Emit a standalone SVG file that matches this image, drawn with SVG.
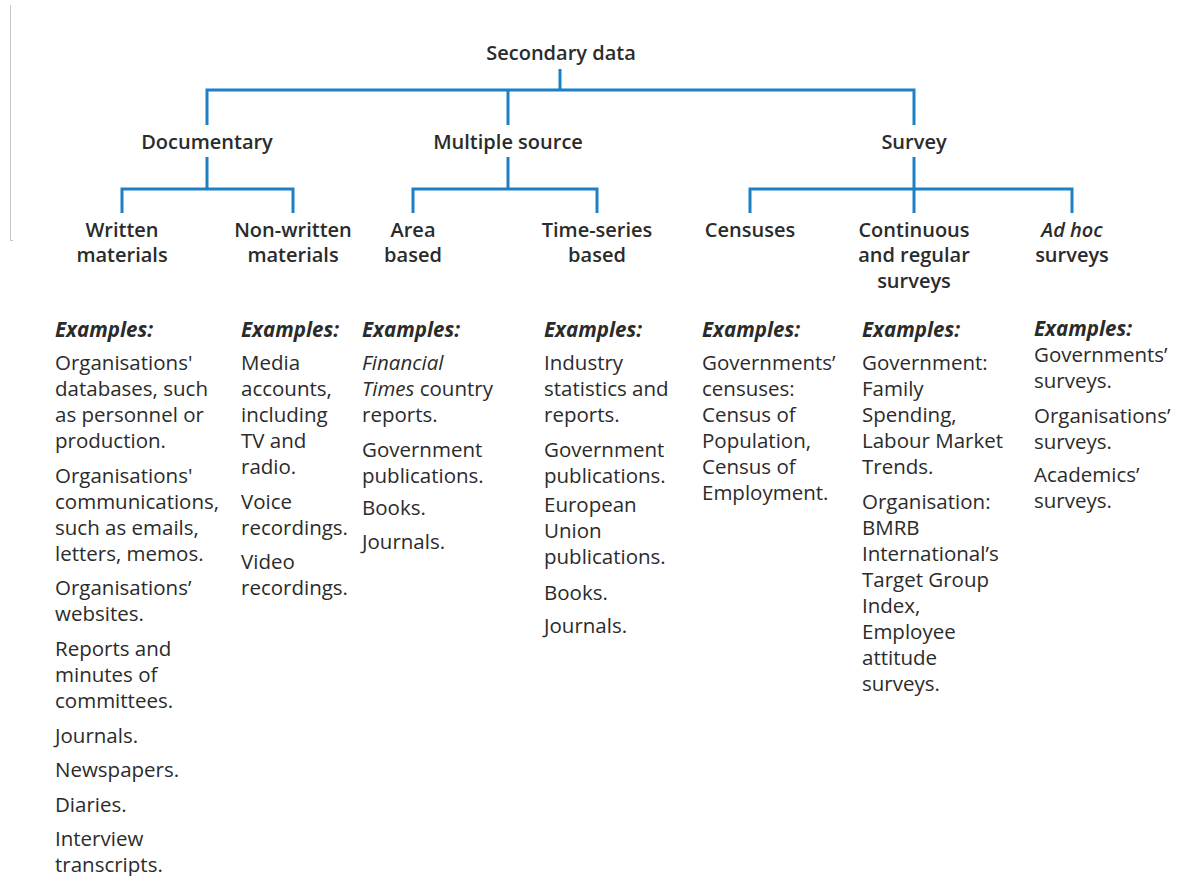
<svg xmlns="http://www.w3.org/2000/svg" width="1183" height="876" viewBox="0 0 1183 876">
  <style>
    text { font-family: "Open Sans", "Noto Sans", "Liberation Sans", sans-serif; fill: #2b2b2b; }
    .h { font-size: 20px; font-weight: 600; text-anchor: middle; }
    .b { font-size: 20.5px; }
    .ex { font-size: 20.5px; font-weight: bold; font-style: italic; }
    .i { font-style: italic; }
    .wire { fill: none; stroke: #1b80c4; stroke-width: 3; stroke-linejoin: miter; stroke-linecap: butt; }
    .rule { fill: none; stroke: #c4c4c4; stroke-width: 1; }
  </style>
  <rect width="1183" height="876" fill="#ffffff"/>

  <!-- thin page rule at the left edge -->
  <path class="rule" d="M10.5,5 V240.5 H13"/>

  <!-- tree connectors -->
  <g id="connectors">
    <path class="wire" d="M560,69 V90"/>
    <path class="wire" d="M207,125 V90 H914 V125"/>
    <path class="wire" d="M508,90 V125"/>
    <path class="wire" d="M207,157 V189"/>
    <path class="wire" d="M122,213 V189 H293 V213"/>
    <path class="wire" d="M508,157 V189"/>
    <path class="wire" d="M413,213 V189 H597 V213"/>
    <path class="wire" d="M914,157 V213"/>
    <path class="wire" d="M750,213 V189 H1072 V213"/>
  </g>

  <g id="secondary-data"><text class="h" x="561" y="60">Secondary data</text></g>
  <g id="documentary"><text class="h" x="207" y="149">Documentary</text></g>
  <g id="multiple-source"><text class="h" x="508" y="149">Multiple source</text></g>
  <g id="survey"><text class="h" x="914" y="149">Survey</text></g>

  <g id="written">
    <text class="h" x="122" y="237">Written</text>
    <text class="h" x="122" y="262">materials</text>
    <g class="b">
      <text class="ex" x="55" y="337">Examples:</text>
      <text x="55" y="370">Organisations'</text>
      <text x="55" y="396">databases, such</text>
      <text x="55" y="422">as personnel or</text>
      <text x="55" y="448">production.</text>
      <text x="55" y="483">Organisations'</text>
      <text x="55" y="509">communications,</text>
      <text x="55" y="535">such as emails,</text>
      <text x="55" y="561">letters, memos.</text>
      <text x="55" y="595">Organisations’</text>
      <text x="55" y="621">websites.</text>
      <text x="55" y="656">Reports and</text>
      <text x="55" y="682">minutes of</text>
      <text x="55" y="708">committees.</text>
      <text x="55" y="743">Journals.</text>
      <text x="55" y="777">Newspapers.</text>
      <text x="55" y="812">Diaries.</text>
      <text x="55" y="846">Interview</text>
      <text x="55" y="872">transcripts.</text>
    </g>
  </g>

  <g id="non-written">
    <text class="h" x="293" y="237">Non-written</text>
    <text class="h" x="293" y="262">materials</text>
    <g class="b">
      <text class="ex" x="241" y="337">Examples:</text>
      <text x="241" y="370">Media</text>
      <text x="241" y="396">accounts,</text>
      <text x="241" y="422">including</text>
      <text x="241" y="448">TV and</text>
      <text x="241" y="474">radio.</text>
      <text x="241" y="509">Voice</text>
      <text x="241" y="535">recordings.</text>
      <text x="241" y="569">Video</text>
      <text x="241" y="595">recordings.</text>
    </g>
  </g>

  <g id="area-based">
    <text class="h" x="413" y="237">Area</text>
    <text class="h" x="413" y="262">based</text>
    <g class="b">
      <text class="ex" x="362" y="337">Examples:</text>
      <text class="i" x="362" y="370">Financial</text>
      <text x="362" y="396"><tspan class="i">Times</tspan> country</text>
      <text x="362" y="422">reports.</text>
      <text x="362" y="457">Government</text>
      <text x="362" y="483">publications.</text>
      <text x="362" y="515">Books.</text>
      <text x="362" y="549">Journals.</text>
    </g>
  </g>

  <g id="time-series">
    <text class="h" x="597" y="237">Time-series</text>
    <text class="h" x="597" y="262">based</text>
    <g class="b">
      <text class="ex" x="544" y="337">Examples:</text>
      <text x="544" y="370">Industry</text>
      <text x="544" y="396">statistics and</text>
      <text x="544" y="422">reports.</text>
      <text x="544" y="457">Government</text>
      <text x="544" y="483">publications.</text>
      <text x="544" y="512">European</text>
      <text x="544" y="538">Union</text>
      <text x="544" y="564">publications.</text>
      <text x="544" y="600">Books.</text>
      <text x="544" y="633">Journals.</text>
    </g>
  </g>

  <g id="censuses">
    <text class="h" x="750" y="237">Censuses</text>
    <g class="b">
      <text class="ex" x="702" y="337">Examples:</text>
      <text x="702" y="370">Governments’</text>
      <text x="702" y="396">censuses:</text>
      <text x="702" y="422">Census of</text>
      <text x="702" y="448">Population,</text>
      <text x="702" y="474">Census of</text>
      <text x="702" y="500">Employment.</text>
    </g>
  </g>

  <g id="continuous">
    <text class="h" x="914" y="237">Continuous</text>
    <text class="h" x="914" y="262">and regular</text>
    <text class="h" x="914" y="288">surveys</text>
    <g class="b">
      <text class="ex" x="862" y="337">Examples:</text>
      <text x="862" y="370">Government:</text>
      <text x="862" y="396">Family</text>
      <text x="862" y="422">Spending,</text>
      <text x="862" y="448">Labour Market</text>
      <text x="862" y="474">Trends.</text>
      <text x="862" y="509">Organisation:</text>
      <text x="862" y="535">BMRB</text>
      <text x="862" y="561">International’s</text>
      <text x="862" y="587">Target Group</text>
      <text x="862" y="613">Index,</text>
      <text x="862" y="639">Employee</text>
      <text x="862" y="665">attitude</text>
      <text x="862" y="691">surveys.</text>
    </g>
  </g>

  <g id="ad-hoc">
    <text class="h i" x="1072" y="237">Ad hoc</text>
    <text class="h" x="1072" y="262">surveys</text>
    <g class="b">
      <text class="ex" x="1034" y="336">Examples:</text>
      <text x="1034" y="362">Governments’</text>
      <text x="1034" y="388">surveys.</text>
      <text x="1034" y="423">Organisations’</text>
      <text x="1034" y="449">surveys.</text>
      <text x="1034" y="482">Academics’</text>
      <text x="1034" y="508">surveys.</text>
    </g>
  </g>
</svg>
